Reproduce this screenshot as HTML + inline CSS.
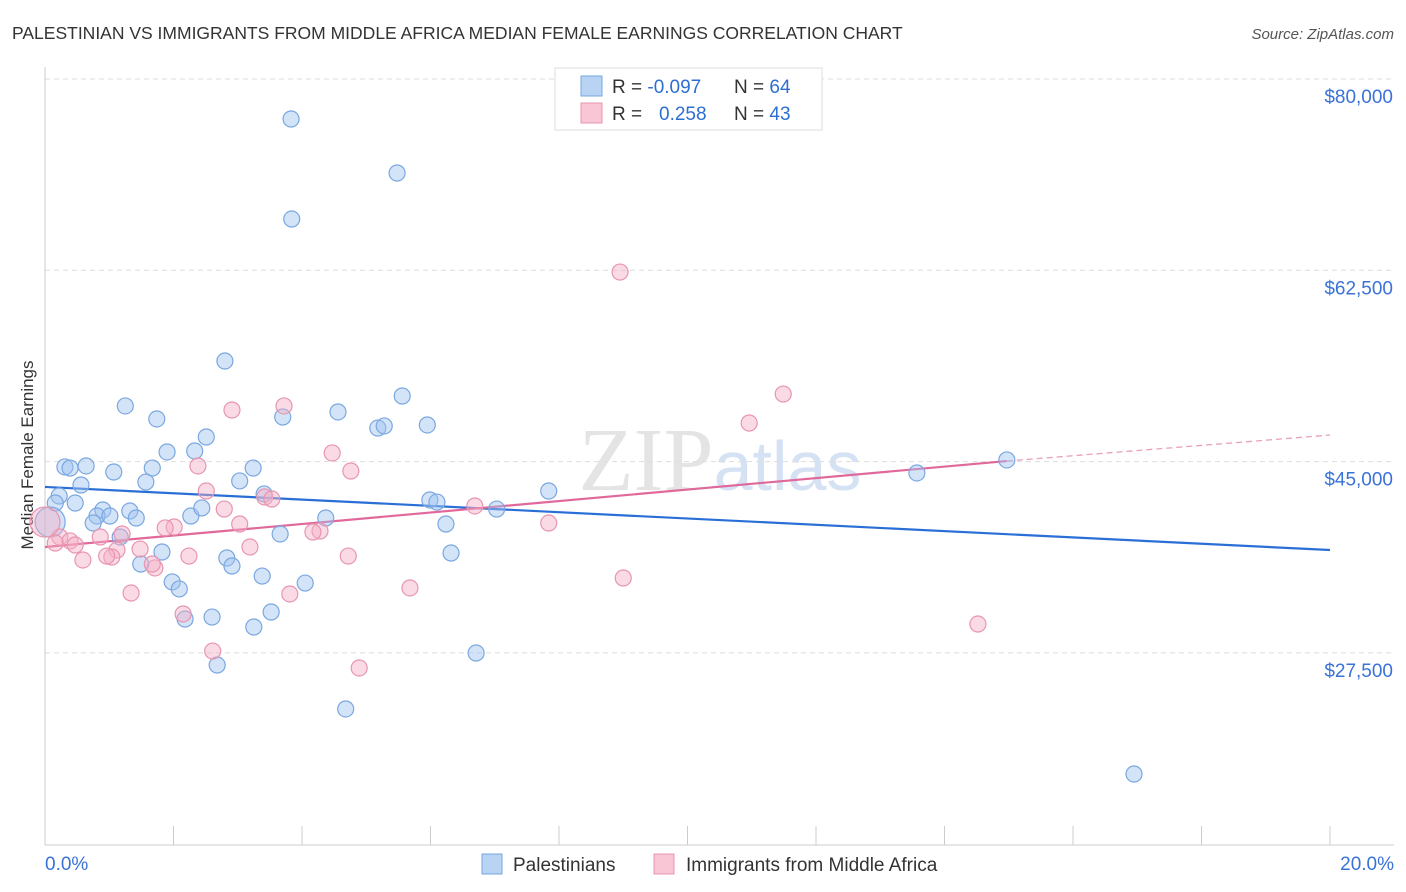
<!DOCTYPE html>
<html><head><meta charset="utf-8">
<style>
body{margin:0;background:#fff;font-family:"Liberation Sans",sans-serif;}
svg{display:block}
</style></head>
<body>
<svg id="chart" width="1406" height="892">
<text x="12" y="39" font-size="17.5" fill="#333">PALESTINIAN VS IMMIGRANTS FROM MIDDLE AFRICA MEDIAN FEMALE EARNINGS CORRELATION CHART</text>
<text x="1394" y="39" font-size="15" fill="#555" font-style="italic" text-anchor="end">Source: ZipAtlas.com</text>
<text x="33" y="455" font-size="17" fill="#333" transform="rotate(-90 33 455)" text-anchor="middle">Median Female Earnings</text>
<text x="720" y="490" font-size="90" fill="#e4e4e4" text-anchor="middle" font-family="Liberation Serif">ZIP<tspan fill="#d4e2f4" font-family="Liberation Sans" font-size="70">atlas</tspan></text>
<g id="grid"></g><g id="axes"></g><g id="lines"></g><g id="points"></g>
<g>
<rect x="555" y="68" width="267" height="62" fill="#fff" stroke="#ddd"/>
<rect x="581" y="76" width="21" height="20" fill="#b8d3f4" stroke="#7aa7e0"/>
<rect x="581" y="103" width="21" height="20" fill="#f9c6d6" stroke="#e895b0"/>
<text x="612" y="93" font-size="19" fill="#333">R = <tspan fill="#2d6fd1">-0.097</tspan></text>
<text x="734" y="93" font-size="19" fill="#333">N = <tspan fill="#2d6fd1">64</tspan></text>
<text x="612" y="120" font-size="19" fill="#333">R = <tspan fill="#2d6fd1" x="659">0.258</tspan></text>
<text x="734" y="120" font-size="19" fill="#333">N = <tspan fill="#2d6fd1">43</tspan></text>
</g>
<g>
<rect x="482" y="854" width="20" height="20" fill="#b8d3f4" stroke="#7aa7e0"/>
<text x="513" y="871" font-size="19" fill="#333">Palestinians</text>
<rect x="654" y="854" width="20" height="20" fill="#f9c6d6" stroke="#e895b0"/>
<text x="686" y="871" font-size="19" fill="#333">Immigrants from Middle Africa</text>
</g>
</svg>
<script>
const yTicks=[80,62.5,45,27.5];
const yTickLabels=["$80,000","$62,500","$45,000","$27,500"];
const xTickLabels=["0.0%","20.0%"];
const blueX=[3.83,5.48,3.84,2.80,5.56,1.25,3.70,4.56,1.74,5.18,5.28,5.95,2.51,1.90,2.33,0.31,0.39,0.64,1.07,1.67,3.24,1.57,3.03,0.56,0.22,0.47,3.41,5.99,6.10,7.84,14.97,13.57,0.16,1.32,0.90,0.81,1.01,1.42,0.75,2.27,2.44,4.37,6.24,7.03,3.66,1.17,1.82,2.83,6.32,1.49,2.91,1.98,2.09,3.38,4.05,3.52,2.60,2.18,3.25,2.68,6.71,4.68,16.95,0.08];
const blueY=[76.34,71.40,67.19,54.20,51.0,50.09,49.08,49.54,48.9,48.07,48.26,48.35,47.25,45.88,45.97,44.51,44.41,44.6,44.05,44.41,44.41,43.13,43.23,42.86,41.85,41.21,42.04,41.49,41.3,42.31,45.15,43.96,41.21,40.48,40.57,40.02,40.02,39.84,39.38,40.02,40.76,39.84,39.29,40.66,38.38,38.1,36.73,36.18,36.64,35.63,35.45,33.99,33.35,34.53,33.89,31.24,30.78,30.6,29.87,26.39,27.49,22.37,16.42,39.47];
const pinkX=[8.95,11.49,10.96,2.91,3.72,4.47,4.76,2.38,2.51,3.42,3.53,2.79,2.01,1.87,3.03,7.84,6.69,4.28,4.17,1.20,0.86,0.23,0.16,0.39,0.47,1.48,1.12,3.19,1.04,0.59,0.96,2.24,4.72,1.71,1.67,9.0,5.68,1.34,3.81,2.15,2.61,4.89,14.52,0.0];
const pinkY=[62.34,51.18,48.53,49.72,50.09,45.79,44.14,44.6,42.31,41.76,41.58,40.66,39.02,38.93,39.29,39.38,40.94,38.65,38.56,38.38,38.1,38.1,37.55,37.74,37.37,37.0,36.91,37.19,36.27,36.0,36.36,36.36,36.36,35.27,35.63,34.35,33.44,32.98,32.89,31.06,27.67,26.12,30.14,39.47];
const blueTrend=[[0,42.68],[20,36.91]];
const pinkTrend=[[0,37.19],[14.97,45.05],[20,47.43]];
const NS="http://www.w3.org/2000/svg";
const X=v=>45+v*64.25;
const Y=v=>79+(80-v)/0.09148;
function mk(tag,attrs,parent){const e=document.createElementNS(NS,tag);for(const k in attrs)e.setAttribute(k,attrs[k]);document.getElementById(parent).appendChild(e);return e;}
yTicks.forEach((t,i)=>{
  const g=mk('line',{x1:45,x2:1394,y1:Y(t),y2:Y(t),stroke:'#ddd','stroke-dasharray':'5,4'},'grid');
  
  
  const l=mk('text',{x:1393,y:Y(t)+24,'text-anchor':'end','font-size':19,fill:'#3a72d8'},'axes');
  l.textContent=yTickLabels[i];
  
  
});
mk('line',{x1:45,x2:45,y1:67,y2:845,stroke:'#ccc'},'axes');
const ax=mk('line',{x1:45,x2:1394,y1:845,y2:845,stroke:'#ccc'},'axes');


for(let i=0;i<=10;i++){const t=mk('line',{x1:X(i*2),x2:X(i*2),y1:826,y2:845,stroke:'#ccc'},'axes');

}
[[0,'start',45],[20,'end',1394]].forEach((d,i)=>{const t=mk('text',{x:d[2],y:870,'text-anchor':d[1],'font-size':19,fill:'#3a72d8'},'axes');t.textContent=xTickLabels[i];

});
function pts(xs,ys,fill,stroke,name){xs.forEach((x,i)=>{const big=(i===xs.length-1);
  const c=mk('circle',{cx:X(x),cy:Y(ys[i]),r:big?15:8,fill:fill,stroke:stroke,'stroke-width':1.2},'points');
  
  });}
pts(blueX,blueY,'rgba(160,196,240,0.45)','#7aa7e0','point-palestinians');
pts(pinkX,pinkY,'rgba(245,175,198,0.45)','#e895b0','point-middle-africa');
const bl=mk('line',{x1:X(blueTrend[0][0]),y1:Y(blueTrend[0][1]),x2:X(blueTrend[1][0]),y2:Y(blueTrend[1][1]),stroke:'#2a6fd6','stroke-width':2.2},'lines');


const pl=mk('line',{x1:X(pinkTrend[0][0]),y1:Y(pinkTrend[0][1]),x2:X(pinkTrend[1][0]),y2:Y(pinkTrend[1][1]),stroke:'#e0689a','stroke-width':2.2},'lines');


const pd=mk('line',{x1:X(pinkTrend[1][0]),y1:Y(pinkTrend[1][1]),x2:X(pinkTrend[2][0]),y2:Y(pinkTrend[2][1]),stroke:'#e8a0bb','stroke-width':1.3,'stroke-dasharray':'6,4'},'lines');


</script>
</body></html>
